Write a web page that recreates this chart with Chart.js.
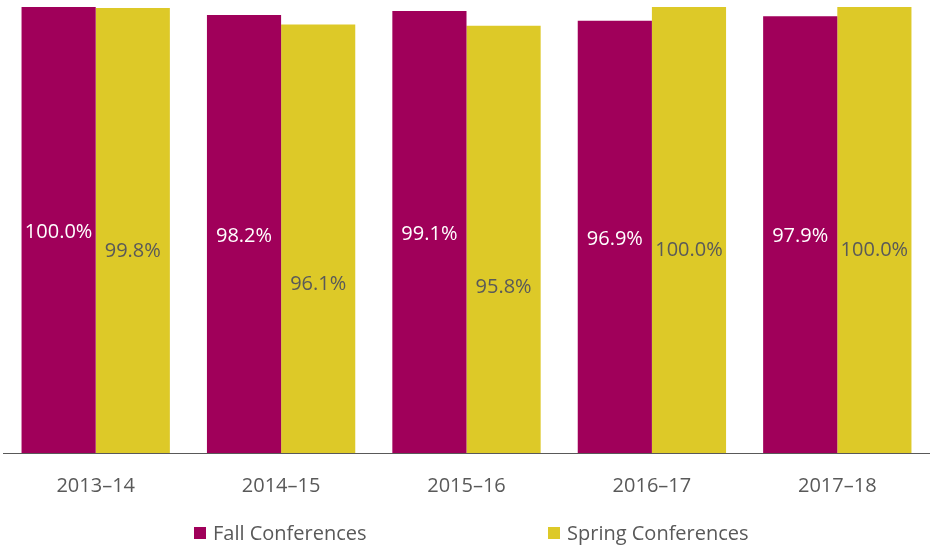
<!DOCTYPE html>
<html>
<head>
<meta charset="utf-8">
<script src="https://cdn.jsdelivr.net/npm/chart.js@4"></script>
<style>
  html, body { margin: 0; padding: 0; background: #fff; }
  #wrap { position: relative; width: 930px; height: 548px; }
  .legend-item { position: absolute; top: 519px; font: 20px "Open Sans", sans-serif; color: #595959; display: flex; align-items: center; white-space: nowrap; }
  .legend-item span.box { display: inline-block; width: 12px; height: 12px; margin-right: 7px; }
</style>
</head>
<body>
<div id="wrap">
  <canvas id="chart" width="930" height="548"></canvas>
</div>
<script>
var years = ['2013\u201314', '2014\u201315', '2015\u201316', '2016\u201317', '2017\u201318'];
var fallRates = [100.0, 98.2, 99.1, 96.9, 97.9];
var springRates = [99.8, 96.1, 95.8, 100.0, 100.0];
var seriesNames = ['Fall Conferences', 'Spring Conferences'];
var seriesColors = ['#A0005A', '#DDC928'];
var labelColors = ['#ffffff', '#595959'];

// value labels inside the bars
var barLabels = {
    id: 'barLabels',
    afterDatasetsDraw: function (chart) {
        var ctx = chart.ctx;
        var top100 = chart.scales.y.getPixelForValue(100);
        ctx.save();
        ctx.font = '20px "Open Sans", sans-serif';
        ctx.textAlign = 'center';
        ctx.textBaseline = 'middle';
        chart.data.datasets.forEach(function (ds, i) {
            var meta = chart.getDatasetMeta(i);
            meta.data.forEach(function (bar, j) {
                var mid = (bar.y + bar.base) / 2;
                var y = i === 0 ? mid + 2 : mid + 20 + 1.5 * (bar.y - top100);
                ctx.fillStyle = labelColors[i];
                ctx.fillText(ds.data[j].toFixed(1) + '%', bar.x, y);
            });
        });
        ctx.restore();
    }
};

var ctx = document.getElementById('chart').getContext('2d');
var myChart = new Chart(ctx, {
    type: 'bar',
    data: {
        labels: years,
        datasets: [
            {
                label: seriesNames[0],
                data: fallRates,
                backgroundColor: seriesColors[0],
                categoryPercentage: 0.8,
                barPercentage: 1
            },
            {
                label: seriesNames[1],
                data: springRates,
                backgroundColor: seriesColors[1],
                categoryPercentage: 0.8,
                barPercentage: 1
            }
        ]
    },
    options: {
        responsive: false,
        animation: false,
        layout: { padding: { top: 7, left: 3, right: 0, bottom: 29 } },
        scales: {
            x: {
                grid: { display: false, drawTicks: false },
                border: { display: true, color: '#595959', width: 1 },
                ticks: {
                    color: '#595959',
                    padding: 21,
                    font: { family: '"Open Sans", sans-serif', size: 20 }
                }
            },
            y: {
                display: false,
                min: 0,
                max: 100
            }
        },
        plugins: {
            legend: { display: false },
            tooltip: { enabled: false }
        }
    },
    plugins: [barLabels]
});

// legend as html below the chart
var wrap = document.getElementById('wrap');
var legendLefts = [194, 548];
seriesNames.forEach(function (name, i) {
    var item = document.createElement('div');
    item.className = 'legend-item';
    item.style.left = legendLefts[i] + 'px';
    var box = document.createElement('span');
    box.className = 'box';
    box.style.background = seriesColors[i];
    item.appendChild(box);
    item.appendChild(document.createTextNode(name));
    wrap.appendChild(item);
});
</script>
</body>
</html>
